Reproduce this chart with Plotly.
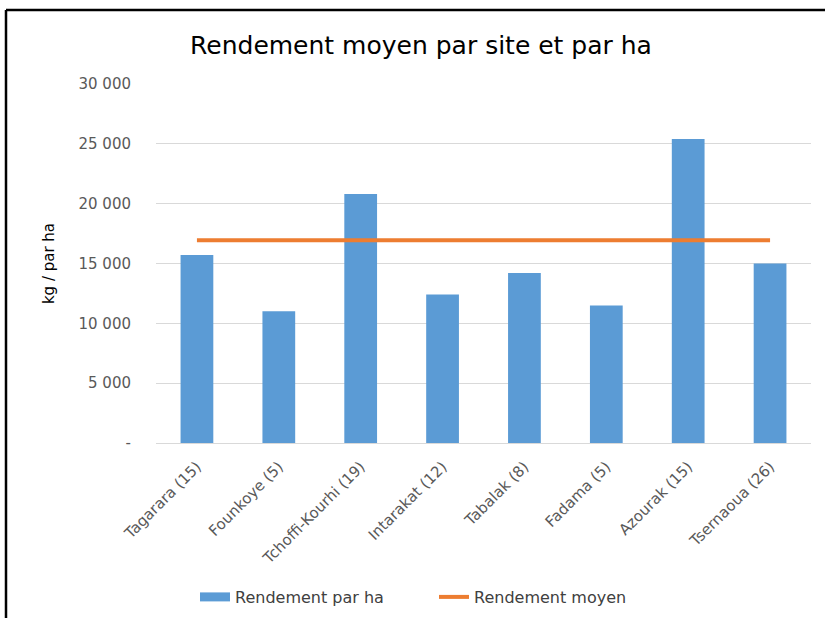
import plotly.graph_objects as go

sites = ["Tagarara (15)", "Founkoye (5)", "Tchoffi-Kourhi (19)", "Intarakat (12)",
         "Tabalak (8)", "Fadama (5)", "Azourak (15)", "Tsernaoua (26)"]
rendement_par_ha = [15700, 11000, 20800, 12400, 14200, 11500, 25400, 15000]
rendement_moyen = [16950] * len(sites)
tick_vals = [0, 5000, 10000, 15000, 20000, 25000, 30000]
tick_text = ["-", "5 000", "10 000", "15 000", "20 000", "25 000", "30 000"]

FONT = "DejaVu Sans, sans-serif"
W, H = 825, 618
L, R, T, B = 156, 14, 84, 175

fig = go.Figure()
fig.add_trace(go.Bar(x=sites, y=rendement_par_ha, name="Rendement par ha",
                     marker=dict(color="#5B9BD5", line=dict(width=0)), width=0.4,
                     showlegend=False))
# legend-only entry drawn as a wide block like the reference legend key
fig.add_trace(go.Scatter(x=[sites[0]], y=[None], name="Rendement par ha", mode="lines",
                         line=dict(color="#5B9BD5", width=9), hoverinfo="skip"))
fig.add_trace(go.Scatter(x=sites, y=rendement_moyen, name="Rendement moyen", mode="lines",
                         line=dict(color="#ED7D31", width=4)))

pw, ph = W - L - R, H - T - B
def px_x(p):
    return (p - L) / pw
def px_y(p):
    return (H - B - p) / ph

fig.update_layout(
    width=W, height=H,
    margin=dict(l=L, r=R, t=T, b=B, autoexpand=False),
    paper_bgcolor="white", plot_bgcolor="white",
    font=dict(family=FONT, color="#595959", size=13),
    title=dict(text="Rendement moyen par site et par ha", x=421 / W, xanchor="center",
               y=1 - 45 / H, yanchor="middle", yref="container", xref="container",
               font=dict(family=FONT, size=25, color="#000000")),
    showlegend=True,
    legend=dict(orientation="h", x=195 / W, xanchor="left", xref="container",
                y=1 - 597 / H, yref="container", yanchor="middle",
                entrywidth=194, entrywidthmode="pixels",
                font=dict(family=FONT, size=16, color="#404040"),
                traceorder="normal"),
    shapes=[
        dict(type="line", xref="paper", yref="paper", x0=px_x(6), x1=px_x(W + 2),
             y0=px_y(10), y1=px_y(10), line=dict(color="black", width=2.5)),
        dict(type="line", xref="paper", yref="paper", x0=px_x(6), x1=px_x(6),
             y0=px_y(10), y1=px_y(H + 2), line=dict(color="black", width=2.5)),
    ],
)
fig.update_yaxes(range=[0, 30000], tickvals=tick_vals, ticktext=tick_text,
                 showgrid=True, gridcolor="#D9D9D9", gridwidth=1, zeroline=False,
                 showline=False, ticks="", ticklabelstandoff=24,
                 tickfont=dict(family=FONT, size=15, color="#595959"),
                 title=dict(text="kg / par ha", standoff=20,
                            font=dict(family=FONT, size=15, color="#000000")))
fig.update_xaxes(tickangle=-45, showgrid=False, showline=True, linecolor="#D9D9D9",
                 linewidth=1, tickfont=dict(family=FONT, size=15, color="#595959"),
                 ticks="", ticklabelstandoff=8)

fig.write_html("out.html", config={"displayModeBar": False},
               post_script="document.body.style.margin='0';document.body.style.padding='0';")
